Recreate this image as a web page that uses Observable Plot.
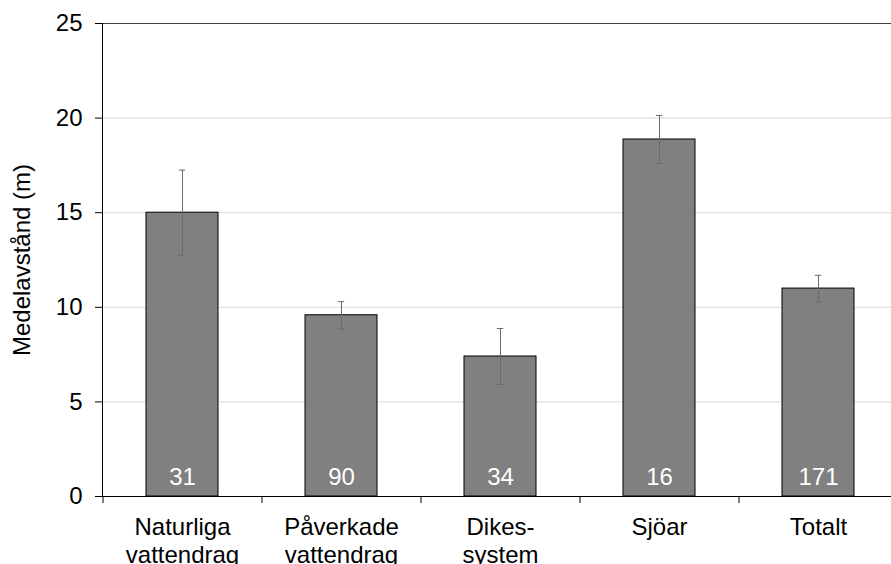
<!DOCTYPE html>
<html>
<head>
<meta charset="utf-8">
<script src="https://cdn.jsdelivr.net/npm/d3@7"></script>
<script src="https://cdn.jsdelivr.net/npm/@observablehq/plot@0.6"></script>
<style>
  html, body { margin: 0; padding: 0; background: white; }
</style>
</head>
<body>
<div id="chart"></div>
<script>
const categories = ["Naturliga\nvattendrag", "Påverkade\nvattendrag", "Dikes-\nsystem", "Sjöar", "Totalt"];
const means = [15.0, 9.58, 7.40, 18.87, 10.99];
const errors = [2.25, 0.72, 1.48, 1.27, 0.70];
const counts = [31, 90, 34, 16, 171];
const yTicks = [0, 5, 10, 15, 20, 25];
const gridTicks = [5, 10, 15, 20];
const yLabel = "Medelavstånd (m)";

const data = categories.map((c, i) => ({cat: c, mean: means[i], err: errors[i], n: counts[i]}));
const FS = 24;

const chart = Plot.plot({
  width: 891,
  height: 564,
  marginLeft: 102,
  marginTop: 23,
  marginBottom: 68,
  marginRight: 0,
  style: {fontFamily: "'Liberation Sans', Arial, sans-serif", fontSize: FS + "px", background: "white", color: "black"},
  x: {domain: categories, range: [102, 897], paddingInner: 0.55, paddingOuter: 0.275, axis: null},
  y: {domain: [0, 25], range: [496, 23], axis: null},
  marks: [
    Plot.gridY(gridTicks, {stroke: "#d9d9d9", strokeOpacity: 1}),
    Plot.ruleY([25], {stroke: "#404040"}),
    Plot.barY(data, {x: "cat", y: "mean", fill: "#808080", stroke: "black", strokeWidth: 1}),
    Plot.ruleX(data, {x: "cat", y1: d => d.mean - d.err, y2: d => d.mean + d.err, stroke: "#6a6a6a"}),
    Plot.tickY(data, {x: "cat", y: d => d.mean + d.err, stroke: "#6a6a6a", insetLeft: 32.8, insetRight: 32.8}),
    Plot.tickY(data, {x: "cat", y: d => d.mean - d.err, stroke: "#6a6a6a", insetLeft: 32.8, insetRight: 32.8}),
    Plot.text(data, {x: "cat", y: 0, text: d => String(d.n), dy: -19, fill: "white", fontSize: FS}),
    Plot.ruleY([0], {stroke: "black"}),
    Plot.frame({anchor: "left", stroke: "black"}),
    Plot.axisY(yTicks, {tickSize: 7, tickPadding: 13, fontSize: FS, label: null}),
    Plot.text([yLabel], {frameAnchor: "left", textAnchor: "middle", rotate: -90, dx: -80, fontSize: FS, fill: "black"}),
    Plot.axisX({tickSize: 0, tickPadding: 19, fontSize: FS, lineHeight: 1.15, label: null}),
    Plot.axisX({tickSize: 7, tickFormat: () => "", dx: -79.5, label: null})
  ]
});
document.getElementById("chart").append(chart);
</script>
</body>
</html>
